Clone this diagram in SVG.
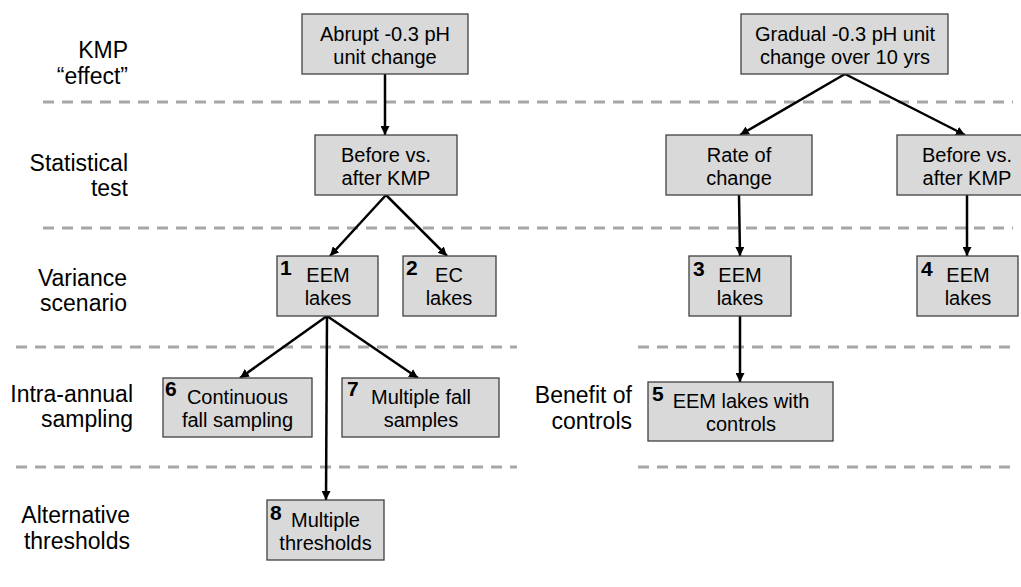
<svg xmlns="http://www.w3.org/2000/svg" width="1021" height="587" viewBox="0 0 1021 587">
<style>
.box{fill:#d9d9d9;stroke:#404040;stroke-width:1.3}
.t{font-family:"Liberation Sans",Arial,sans-serif;font-size:20px;fill:#000;text-anchor:middle}
.n{font-family:"Liberation Sans",Arial,sans-serif;font-size:21px;font-weight:bold;fill:#000}
.lab{font-family:"Liberation Sans",Arial,sans-serif;font-size:23px;fill:#000;text-anchor:end}
.dash{stroke:#a6a6a6;stroke-width:3;stroke-dasharray:11 8;fill:none}
.c{stroke:#000;stroke-width:2.5;fill:none;marker-end:url(#ah)}
</style>
<defs>
<marker id="ah" viewBox="0 0 10 10" refX="10" refY="5" markerWidth="9" markerHeight="9" markerUnits="userSpaceOnUse" orient="auto">
<path d="M0,0 L10,5 L0,10 z" fill="#000"/>
</marker>
</defs>
<rect width="1021" height="587" fill="#fff"/>
<g id="separators">
<line class="dash" x1="43" y1="102" x2="1013" y2="102"/>
<line class="dash" x1="43" y1="228" x2="1013" y2="228"/>
<line class="dash" x1="16" y1="347" x2="517" y2="347"/>
<line class="dash" x1="638" y1="347" x2="1013" y2="347"/>
<line class="dash" x1="16" y1="467" x2="517" y2="467"/>
<line class="dash" x1="638" y1="467" x2="1013" y2="467"/>
</g>
<g id="row-labels">
<text class="lab" x="128" y="58">KMP</text>
<text class="lab" x="128" y="84">“effect”</text>
<text class="lab" x="128" y="171">Statistical</text>
<text class="lab" x="128" y="196">test</text>
<text class="lab" x="127" y="286">Variance</text>
<text class="lab" x="127" y="311">scenario</text>
<text class="lab" x="133" y="402">Intra-annual</text>
<text class="lab" x="133" y="427">sampling</text>
<text class="lab" x="130" y="523">Alternative</text>
<text class="lab" x="130" y="549">thresholds</text>
<text class="lab" x="632" y="403">Benefit of</text>
<text class="lab" x="632" y="429">controls</text>
</g>
<g id="connectors">
<line class="c" x1="385" y1="74" x2="385" y2="135"/>
<line class="c" x1="386" y1="195" x2="330" y2="256"/>
<line class="c" x1="386" y1="195" x2="447" y2="256"/>
<line class="c" x1="327" y1="316" x2="240" y2="378"/>
<line class="c" x1="327" y1="316" x2="418" y2="378"/>
<line class="c" x1="327" y1="316" x2="326" y2="500"/>
<line class="c" x1="845" y1="74" x2="740" y2="135"/>
<line class="c" x1="845" y1="74" x2="965" y2="135"/>
<line class="c" x1="739" y1="195" x2="740" y2="256"/>
<line class="c" x1="967" y1="195" x2="967" y2="256"/>
<line class="c" x1="740" y1="316" x2="740" y2="382"/>
</g>
<g id="abrupt">
<rect class="box" x="302" y="14" width="166" height="60"/>
<text class="t" x="385" y="41">Abrupt -0.3 pH</text>
<text class="t" x="385" y="64">unit change</text>
</g>
<g id="gradual">
<rect class="box" x="741" y="14" width="207" height="60"/>
<text class="t" x="845" y="41">Gradual -0.3 pH unit</text>
<text class="t" x="845" y="64">change over 10 yrs</text>
</g>
<g id="before-left">
<rect class="box" x="315" y="135" width="142" height="60"/>
<text class="t" x="386" y="162">Before vs.</text>
<text class="t" x="386" y="185">after KMP</text>
</g>
<g id="rate">
<rect class="box" x="666" y="135" width="146" height="60"/>
<text class="t" x="739" y="162">Rate of</text>
<text class="t" x="739" y="185">change</text>
</g>
<g id="before-right">
<rect class="box" x="897" y="135" width="142" height="60"/>
<text class="t" x="967" y="162">Before vs.</text>
<text class="t" x="967" y="185">after KMP</text>
</g>
<g id="node1">
<rect class="box" x="277" y="256" width="101" height="60"/>
<text class="n" x="280" y="275">1</text>
<text class="t" x="328" y="282">EEM</text>
<text class="t" x="328" y="305">lakes</text>
</g>
<g id="node2">
<rect class="box" x="403" y="256" width="93" height="60"/>
<text class="n" x="406" y="275">2</text>
<text class="t" x="449" y="282">EC</text>
<text class="t" x="449" y="305">lakes</text>
</g>
<g id="node3">
<rect class="box" x="689" y="256" width="102" height="60"/>
<text class="n" x="693" y="276">3</text>
<text class="t" x="740" y="282">EEM</text>
<text class="t" x="740" y="305">lakes</text>
</g>
<g id="node4">
<rect class="box" x="917" y="256" width="101" height="60"/>
<text class="n" x="921" y="276">4</text>
<text class="t" x="968" y="282">EEM</text>
<text class="t" x="968" y="305">lakes</text>
</g>
<g id="node5">
<rect class="box" x="648" y="382" width="185" height="59"/>
<text class="n" x="652" y="401">5</text>
<text class="t" x="741" y="408">EEM lakes with</text>
<text class="t" x="741" y="431">controls</text>
</g>
<g id="node6">
<rect class="box" x="163" y="378" width="149" height="59"/>
<text class="n" x="165" y="396">6</text>
<text class="t" x="237.5" y="404">Continuous</text>
<text class="t" x="237.5" y="427">fall sampling</text>
</g>
<g id="node7">
<rect class="box" x="342" y="378" width="157" height="59"/>
<text class="n" x="347" y="396">7</text>
<text class="t" x="421" y="404">Multiple fall</text>
<text class="t" x="421" y="427">samples</text>
</g>
<g id="node8">
<rect class="box" x="267" y="500" width="117" height="60"/>
<text class="n" x="270" y="520">8</text>
<text class="t" x="325.5" y="527">Multiple</text>
<text class="t" x="325.5" y="550">thresholds</text>
</g>
</svg>
